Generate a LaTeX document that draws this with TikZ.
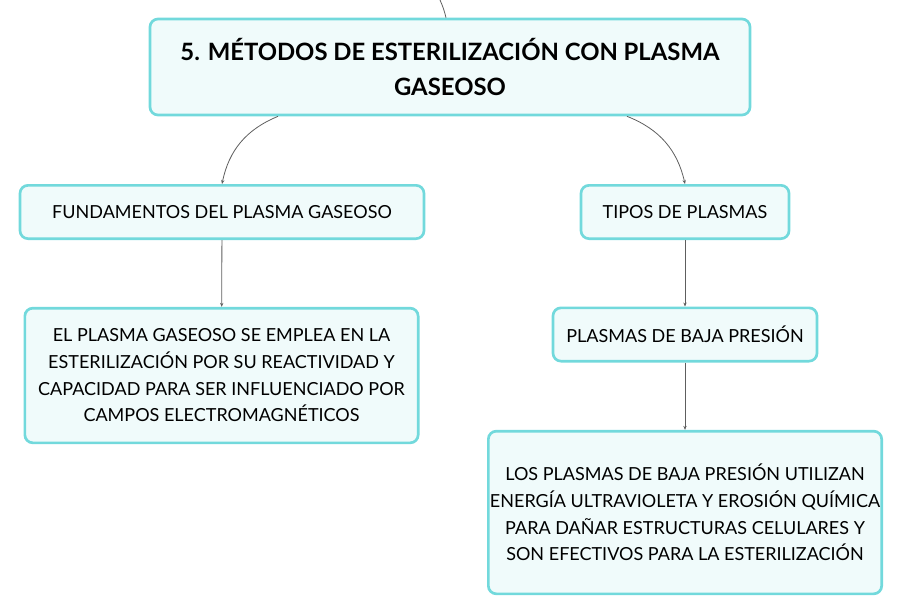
\documentclass[tikz,border=0pt]{standalone}
\usepackage{fontspec}
\setmainfont{Lato}
\usepackage{xcolor}
\usepackage{tikz}
\usetikzlibrary{positioning,calc,arrows.meta}
\definecolor{cyanline}{HTML}{72D9DC}
\definecolor{cyanfill}{HTML}{F0FBFB}
\definecolor{linkgrey}{HTML}{5E5E5E}
\tikzstyle{topic}= [rectangle, rounded corners=6pt, draw=cyanline, line width=2pt, fill=cyanfill, align=center, inner sep=0pt, font=\fontsize{13.5}{20}\selectfont]
\tikzstyle{link}= [draw=linkgrey, line width=0.6pt, -{Stealth[length=3pt,width=2.5pt]}]

\begin{document}
\begin{tikzpicture}[x=0.75pt, y=-0.75pt]
				\useasboundingbox (0,0) rectangle (902,615);
				\node[topic, minimum width=450pt, minimum height=72pt, font=\fontsize{17.9}{26}\selectfont\bfseries] (T)  at (450,67) {5. MÉTODOS DE ESTERILIZACIÓN CON PLASMA\\GASEOSO};
				\node[topic, minimum width=303pt, minimum height=40pt] (F)  at (222,212) {FUNDAMENTOS DEL PLASMA GASEOSO};
				\node[topic, minimum width=156pt, minimum height=40pt] (P)  at (685,212) {TIPOS DE PLASMAS};
				\node[topic, minimum width=295pt, minimum height=101pt] (F1)  at (221.5,375.5) {EL PLASMA GASEOSO SE EMPLEA EN LA\\ESTERILIZACIÓN POR SU REACTIVIDAD Y\\CAPACIDAD PARA SER INFLUENCIADO POR\\CAMPOS ELECTROMAGNÉTICOS};
				\node[topic, minimum width=198pt, minimum height=40pt] (B)  at (685,334.5) {PLASMAS DE BAJA PRESIÓN};
				\node[topic, minimum width=295pt, minimum height=122pt] (B1)  at (685,512.5) {LOS PLASMAS DE BAJA PRESIÓN UTILIZAN\\ENERGÍA ULTRAVIOLETA Y EROSIÓN QUÍMICA\\PARA DAÑAR ESTRUCTURAS CELULARES Y\\SON EFECTIVOS PARA LA ESTERILIZACIÓN};

				\coordinate (in) at (440,0);
				\draw[draw=linkgrey, line width=0.6pt] (in) to[bend left=5] ($(T.north)+(-4,0)$);
				\draw[link] ($(T.south)+(-172,0)$) to[bend right=28] (F.north);
				\draw[link] ($(T.south)+(177,0)$) to[bend left=28] (P.north);
				\draw[link] (F) -- (F1);
				\draw[link] (P) -- (B);
				\draw[link] (B) -- (B1);
			\end{tikzpicture}
\end{document}
